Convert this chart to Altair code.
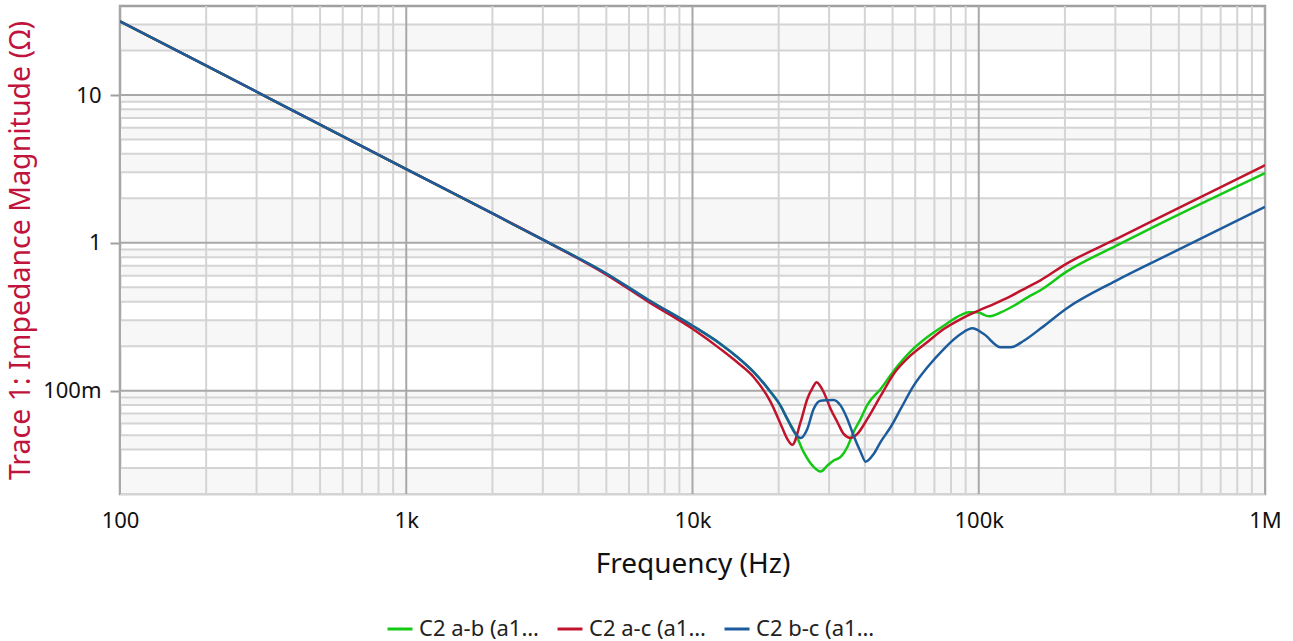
import altair as alt
import pandas as pd

# ---------------- data ----------------
series_names = ["C2 a-b (a1…", "C2 a-c (a1…", "C2 b-c (a1…"]
series_colors = ["#14c814", "#c0142d", "#1c5b9c"]

ab_freq = [100, 200, 500, 1000, 2000, 3000, 5000, 7000, 10000, 12530, 14330, 16340,
           18740, 20310, 21430, 22920, 24440, 26490, 28030, 29580, 31120, 32930, 34750,
           36550, 38670, 40810, 45430, 50440, 57830, 66160, 75460, 86500, 92270,
           98970, 108400, 119400, 132600, 148100, 164800, 201500, 301300, 404900,
           1000000]
ab_z = [31.5, 15.8, 6.3, 3.15, 1.58, 1.05, 0.62, 0.412, 0.275, 0.207, 0.169, 0.134,
        0.098, 0.079, 0.0644, 0.051, 0.0385, 0.0305, 0.0284, 0.0311, 0.0337, 0.0356, 0.0416,
        0.0526, 0.0644, 0.0801, 0.1027, 0.1359, 0.1843, 0.2306, 0.2749, 0.3248, 0.3387,
        0.3387, 0.3183, 0.3387, 0.3753, 0.4276, 0.48, 0.634, 0.954, 1.271,
        2.96]

ac_freq = [100, 200, 500, 1000, 2000, 3000, 5000, 7000, 10000, 12530, 14330, 16340,
           18740, 20310, 21430, 22320, 23860, 25180, 26300, 27140, 27900, 28710, 30380, 32060,
           33730, 35680, 37660, 40810, 45430, 50440, 57830, 66160, 75460, 86500,
           98970, 112800, 129400, 148100, 164800, 201500, 301300, 404900,
           1000000]
ac_z = [31.5, 15.8, 6.3, 3.15, 1.58, 1.05, 0.61, 0.40, 0.262, 0.191, 0.1555, 0.1238,
        0.0839, 0.0596, 0.0472, 0.043, 0.0614, 0.0879, 0.105, 0.114, 0.108, 0.098, 0.0752, 0.0614,
        0.051, 0.0479, 0.051, 0.0644, 0.0921, 0.1297, 0.1732, 0.2134, 0.2611, 0.3052,
        0.3455, 0.3853, 0.4364, 0.5019, 0.5598, 0.718, 1.059, 1.408,
        3.35]

bc_freq = [100, 200, 500, 1000, 2000, 3000, 5000, 7000, 10000, 12530, 14330, 16340,
           18740, 20310, 21430, 22920, 23860, 25180, 26490, 28030, 29580, 31120, 32930, 34750,
           36550, 38670, 40260, 42950, 45430, 49240, 53360, 59250, 66160, 75460,
           86500, 95060, 104100, 119400, 129400, 143700, 164800, 201500, 301300,
           404900, 1000000]
bc_z = [31.5, 15.8, 6.3, 3.15, 1.58, 1.05, 0.62, 0.412, 0.275, 0.207, 0.169, 0.134,
        0.098, 0.079, 0.0644, 0.051, 0.0479, 0.0551, 0.0752, 0.0856, 0.0862, 0.0865, 0.0792, 0.0644,
        0.0496, 0.0385, 0.0331, 0.0373, 0.045, 0.0568, 0.0752, 0.1081, 0.1439, 0.1913,
        0.2416, 0.264, 0.2416, 0.1965, 0.1965, 0.2177, 0.264, 0.357, 0.553,
        0.737, 1.75]

x_major = [100, 1000, 10000, 100000, 1000000]
x_minor = [m * d for d in [100, 1000, 10000, 100000] for m in range(2, 10)]
y_major = [0.1, 1, 10]
y_minor = [0.02, 0.03, 0.04, 0.05, 0.06, 0.07, 0.08, 0.09,
           0.2, 0.3, 0.4, 0.5, 0.6, 0.7, 0.8, 0.9,
           2, 3, 4, 5, 6, 7, 8, 9, 20, 30]
band_lo = [0.02, 0.04, 0.06, 0.08, 0.2, 0.4, 0.6, 0.8, 1, 3, 5, 7, 9, 20]
band_hi = [0.03, 0.05, 0.07, 0.1, 0.3, 0.5, 0.7, 0.9, 2, 4, 6, 8, 10, 30]

# ---------------- tables ----------------
rows = []
for name, fs, zs in zip(series_names, [ab_freq, ac_freq, bc_freq], [ab_z, ac_z, bc_z]):
    for f, z in zip(fs, zs):
        rows.append({"series": name, "f": f, "z": z})
curves = pd.DataFrame(rows)

xs = alt.Scale(type="log", domain=[100, 1000000], nice=False)
ys = alt.Scale(type="log", domain=[0.02, 40], nice=False)

x_label_expr = ("datum.value == 100 ? '100' : datum.value == 1000 ? '1k' : "
                "datum.value == 10000 ? '10k' : datum.value == 100000 ? '100k' : '1M'")
y_label_expr = "datum.value == 10 ? '10' : datum.value == 1 ? '1' : '100m'"

x_axis = alt.Axis(values=x_major, labelExpr=x_label_expr, grid=False,
                  ticks=False, domain=False, labelFontSize=22, labelFlush=False,
                  labelPadding=16, labelColor="#111111",
                  title="Frequency (Hz)", titleFontSize=28,
                  titleFontWeight="normal", titleColor="#111111",
                  titlePadding=19)
y_axis = alt.Axis(values=y_major, labelExpr=y_label_expr, grid=False,
                  ticks=True, tickSize=10, tickColor="#a0a0a0", tickWidth=2,
                  domain=False, labelFontSize=22, labelPadding=9, labelFlush=False,
                  labelColor="#111111",
                  title="Trace 1: Impedance Magnitude (Ω)", titleFontSize=28.5,
                  titleFontWeight="normal", titleColor="#c0143c",
                  titlePadding=7)

bands = alt.Chart(pd.DataFrame({"lo": band_lo, "hi": band_hi})).mark_rect(
    color="#f7f7f7").encode(
    y=alt.Y("lo:Q", scale=ys, axis=y_axis), y2="hi:Q")

xminor = alt.Chart(pd.DataFrame({"v": x_minor})).mark_rule(
    color="#d4d4d4", strokeWidth=2).encode(x=alt.X("v:Q", scale=xs, axis=x_axis))
yminor = alt.Chart(pd.DataFrame({"v": y_minor})).mark_rule(
    color="#d4d4d4", strokeWidth=2).encode(y=alt.Y("v:Q", scale=ys, axis=y_axis))
xmajor = alt.Chart(pd.DataFrame({"v": x_major})).mark_rule(
    color="#a8a8a8", strokeWidth=2).encode(x=alt.X("v:Q", scale=xs, axis=x_axis))
ymajor = alt.Chart(pd.DataFrame({"v": y_major})).mark_rule(
    color="#a8a8a8", strokeWidth=2).encode(y=alt.Y("v:Q", scale=ys, axis=y_axis))

lines = alt.Chart(curves).mark_line(strokeWidth=2.5, clip=True,
                                    interpolate="monotone").encode(
    x=alt.X("f:Q", scale=xs, axis=x_axis),
    y=alt.Y("z:Q", scale=ys, axis=y_axis),
    color=alt.Color("series:N",
                    scale=alt.Scale(domain=series_names, range=series_colors),
                    legend=alt.Legend(title=None, orient="none", direction="horizontal",
                                      legendX=266, legendY=609,
                                      symbolType="stroke", symbolSize=625,
                                      symbolStrokeWidth=3, labelFontSize=22,
                                      labelColor="#222222", labelOffset=5,
                                      columnPadding=12, labelLimit=300)),
    detail="series:N",
)

chart = alt.layer(bands, xminor, yminor, xmajor, ymajor, lines).resolve_scale(
    x="shared", y="shared"
).properties(
    width=1145, height=488,
    autosize=alt.AutoSizeParams(type="none"),
    padding={"left": 120, "top": 6, "right": 28, "bottom": 147},
).configure(
    font="Noto Sans",
).configure_view(
    stroke="#a0a0a0", strokeWidth=2.5,
)

chart.save("out.html", embed_options={"renderer": "svg", "actions": False})
